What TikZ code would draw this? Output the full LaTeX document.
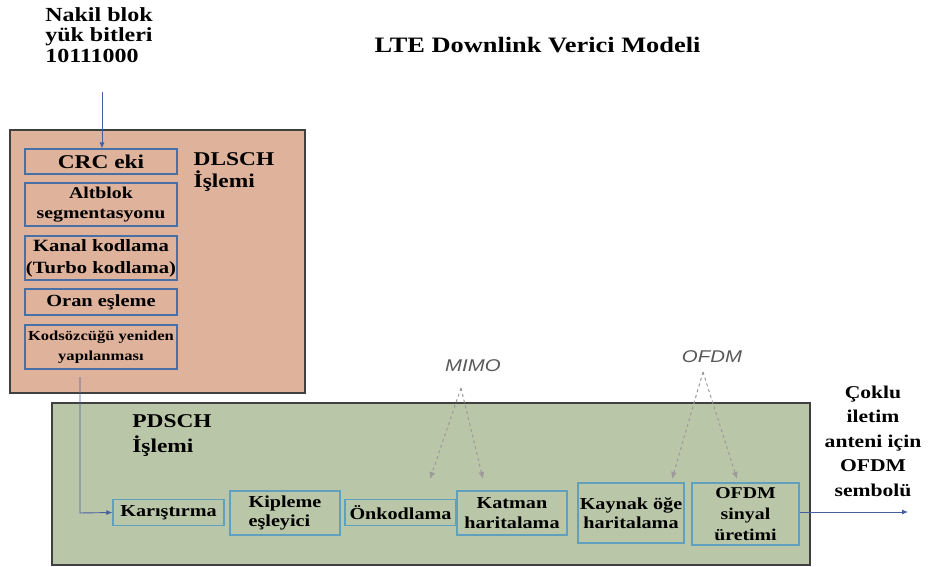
\documentclass[tikz,border=0pt]{standalone}
\usepackage{fontspec}
\setmainfont{Liberation Serif}[FakeStretch=1.2]
\newfontfamily\labfont{Liberation Sans}[FakeStretch=1.2]
\usetikzlibrary{arrows.meta}
\definecolor{salmon}{RGB}{222,178,155}
\definecolor{sage}{RGB}{186,198,168}
\definecolor{boxblue}{RGB}{72,112,165}
\definecolor{lboxblue}{RGB}{95,160,190}
\definecolor{arrblue}{RGB}{70,95,160}
\definecolor{dgray}{RGB}{155,155,155}
\begin{document}
\begin{tikzpicture}[x=1pt,y=-1pt,
  panel/.style={draw=black!75, line width=1.3pt},
  dbox/.style={draw=boxblue, line width=1.1pt, inner sep=0pt, align=center, font=\bfseries},
  pbox/.style={draw=lboxblue, line width=1.1pt, inner sep=0pt, align=center, font=\bfseries\fontsize{16.8}{19.5}\selectfont},
  btext/.style={font=\bfseries\fontsize{20}{20.5}\selectfont, align=center, inner sep=0pt},
  flow/.style={draw=arrblue, line width=0.9pt, -{Latex[length=6pt,width=5pt]}},
  mimo/.style={draw=dgray, line width=1pt, dashed, dash pattern=on 3pt off 3pt, -{Latex[length=7pt,width=6pt]}},
  ital/.style={font=\labfont\itshape\fontsize{17}{19}\selectfont, text=black!65, inner sep=0pt}
]
\useasboundingbox (0,0) rectangle (938,567);
\fill[white] (0,0) rectangle (938,567);
% panels
\node[panel, fill=salmon, minimum width=295pt, minimum height=263pt, inner sep=0pt] (dlsch) at (157.5,261.5) {};
\node[panel, fill=sage, minimum width=758pt, minimum height=162pt, inner sep=0pt] (pdsch) at (431,484) {};
% title and input text
\node[btext, font=\bfseries\fontsize{22}{24}\selectfont] (title) at (537.5,45) {LTE Downlink Verici Modeli};
\node[btext, align=left] (input) at (99,35) {Nakil blok\\yük bitleri\\10111000};
\node[btext, align=left, font=\bfseries\fontsize{19.5}{22}\selectfont] (dlabel) at (234,172) {DLSCH\\İşlemi};
\node[btext, align=left, font=\bfseries\fontsize{19.5}{25}\selectfont] (plabel) at (172,436) {PDSCH\\İşlemi};
\node[btext, font=\bfseries\fontsize{18}{24.5}\selectfont] (out) at (873,441) {Çoklu\\iletim\\anteni için\\OFDM\\sembolü};
% DLSCH boxes
\node[dbox, minimum width=152pt, minimum height=25pt, font=\bfseries\fontsize{19.5}{21}\selectfont] (crc) at (101,161.5) {CRC eki};
\node[dbox, minimum width=152pt, minimum height=43pt, font=\bfseries\fontsize{16.5}{20}\selectfont] (alt) at (101,204.5) {Altblok\\segmentasyonu};
\node[dbox, minimum width=152pt, minimum height=44pt, font=\bfseries\fontsize{17.2}{22}\selectfont] (kanal) at (101,258) {Kanal kodlama\\(Turbo kodlama)};
\node[dbox, minimum width=152pt, minimum height=26pt, font=\bfseries\fontsize{17}{19}\selectfont] (oran) at (101,302) {Oran eşleme};
\node[dbox, minimum width=152pt, minimum height=44pt, font=\bfseries\fontsize{13.8}{20}\selectfont] (kod) at (101,347) {Kodsözcüğü yeniden\\yapılanması};
% PDSCH boxes
\node[pbox, minimum width=111pt, minimum height=26pt] (kar) at (168.5,512.5) {Karıştırma};
\node[pbox, minimum width=110pt, minimum height=44pt, align=left] (kip) at (285,513) {Kipleme\\eşleyici};
\node[pbox, minimum width=111pt, minimum height=26pt] (onk) at (400.5,512.5) {Önkodlama};
\node[pbox, minimum width=110pt, minimum height=44pt] (kat) at (512,513) {Katman\\haritalama};
\node[pbox, minimum width=106pt, minimum height=60pt] (kay) at (631,513) {Kaynak öğe\\haritalama};
\node[pbox, minimum width=107pt, minimum height=62pt, font=\bfseries\fontsize{16.5}{21}\selectfont] (ofdm) at (745.5,514) {OFDM\\sinyal\\üretimi};
% flow arrows
\coordinate (inTop) at (102,92);
\draw[flow] (inTop) -- (crc.north -| inTop);
\coordinate (kodOut) at (80,377);
\draw[flow] (kodOut) -- (80,513) -- (kar.west);
\coordinate (outEnd) at (908,512);
\draw[flow] (ofdm.east |- outEnd) -- (outEnd);
% MIMO / OFDM labels
\node[ital] (mimolab) at (473,366) {MIMO};
\node[ital] (ofdmlab) at (712,357) {OFDM};
\coordinate (m0) at (461,388);
\coordinate (o0) at (703,372);
\draw[mimo] (m0) -- (430,479);
\draw[mimo] (m0) -- (483,479);
\draw[mimo] (o0) -- (672,479);
\draw[mimo] (o0) -- (737,479);
\end{tikzpicture}
\end{document}
